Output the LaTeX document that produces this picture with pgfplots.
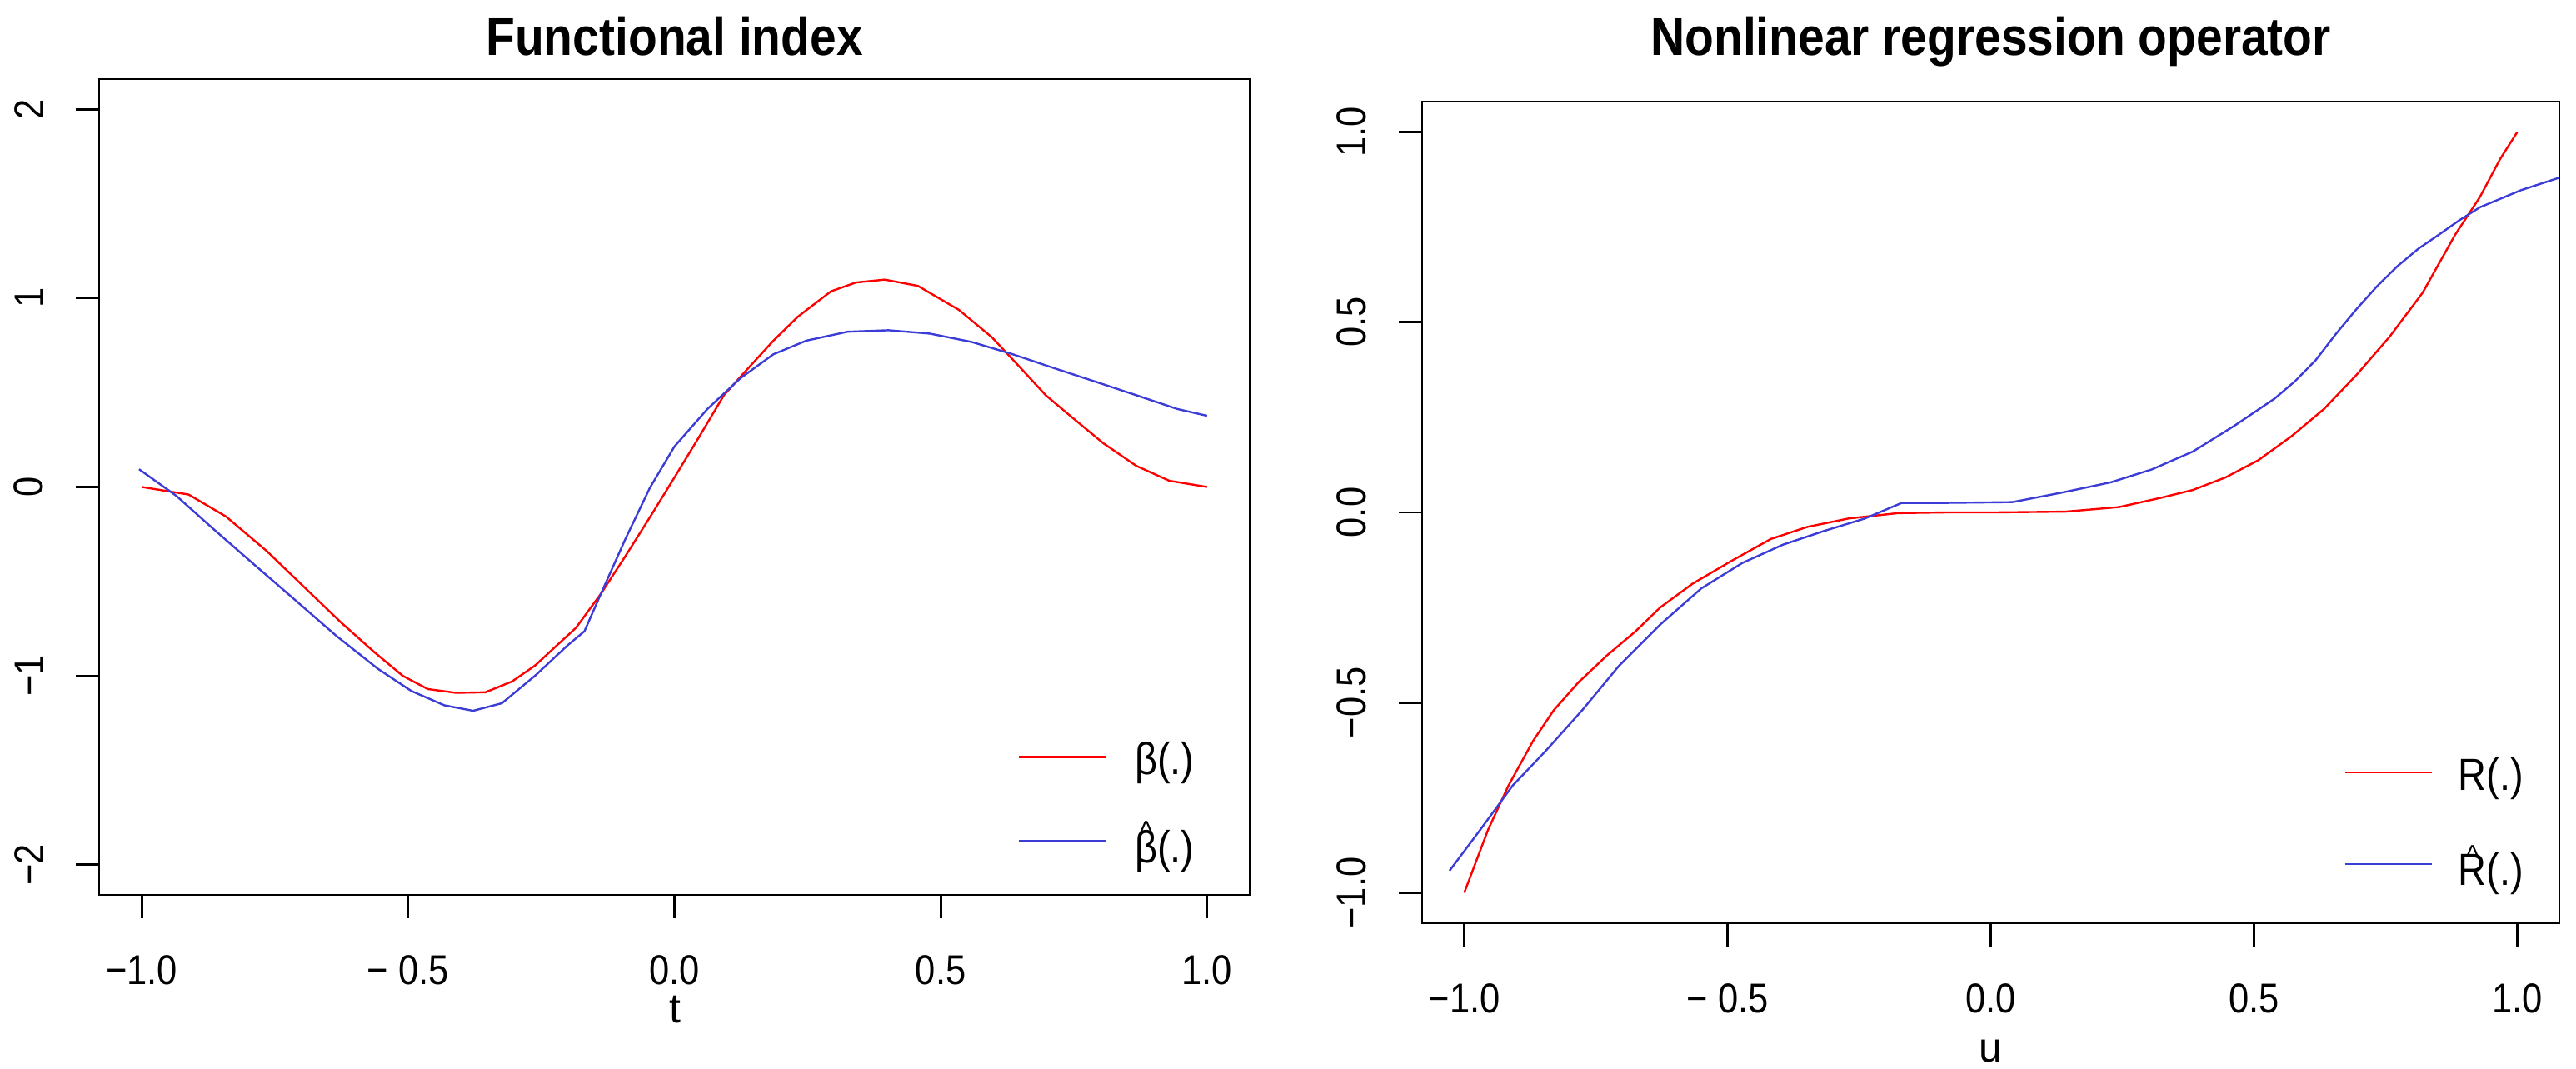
\documentclass[border=0pt]{standalone}
\usepackage{fontspec}
\setmainfont{Liberation Sans}
\usepackage{graphicx}
\usepackage{pgfplots}
\pgfplotsset{compat=1.18}

\definecolor{rred}{RGB}{255,0,0}
\definecolor{rblue}{RGB}{60,60,215}

% hat placed above a letter, like R's plotmath hat()
\newcommand{\rhat}[1]{\leavevmode\vbox{\offinterlineskip\halign{\hfil##\hfil\cr
  {\fontsize{9}{9}\selectfont\char"5E}\cr\noalign{\kern-3.5pt}#1\cr}}}
\newcommand{\narrow}[1]{\scalebox{0.87}[1]{#1}}

\pgfplotsset{
  rpanel/.style={
    scale only axis,
    axis line style={line width=0.7pt},
    every tick/.style={black, line width=0.7pt},
    major tick length=7pt, tick align=outside,
    xtick pos=bottom, ytick pos=left,
    xmin=-1.08, xmax=1.08,
    xtick={-1,-0.5,0,0.5,1},
    xticklabels={−1.0,− 0.5,0.0,0.5,1.0},
    ticklabel style={font=\fontsize{12.5}{14}\selectfont},
    xticklabel style={anchor=north, inner sep=0pt, yshift=-11pt, xscale=0.87},
    yticklabel style={xshift=-9.5pt, rotate=90, anchor=south, inner sep=0pt, xscale=0.87},
    legend style={draw=none, fill=none, inner sep=0pt,
      font=\fontsize{13.5}{15}\selectfont, legend cell align=left,
      nodes={inner sep=0pt}},
    legend image code/.code={\draw[#1] (0pt,1.25pt) -- (26pt,1.25pt);},
  },
}

\begin{document}
\begin{tikzpicture}
\useasboundingbox (0,0) rectangle (773pt,320.75pt);

% ---- left panel: functional index
\begin{axis}[rpanel,
  at={(29.75pt,52.25pt)}, anchor=south west,
  width=345.25pt, height=244.75pt,
  ymin=-2.16, ymax=2.16,
  ytick={-2,-1,0,1,2}, yticklabels={−2,−1,0,1,2},
  legend style={at={(0.798,0.188)}, anchor=north west,
    column sep=8.5pt, row sep=12.5pt},
]
\addplot[rred, line width=0.6pt] coordinates {
(-1,0) (-0.912,-0.04) (-0.842,-0.156) (-0.765,-0.34) (-0.695,-0.53)
(-0.626,-0.717) (-0.564,-0.873) (-0.51,-1.0) (-0.463,-1.07) (-0.41,-1.09)
(-0.355,-1.087) (-0.305,-1.03)
(-0.262,-0.946) (-0.185,-0.746) (-0.138,-0.565) (-0.092,-0.366) (-0.046,-0.16)
(0.0,0.05) (0.047,0.268) (0.093,0.486) (0.139,0.63) (0.186,0.775)
(0.232,0.902) (0.294,1.036) (0.341,1.083) (0.395,1.098) (0.457,1.065)
(0.534,0.938) (0.596,0.793) (0.65,0.63) (0.697,0.486) (0.743,0.377)
(0.805,0.232) (0.867,0.112) (0.929,0.033) (1.0,0.0)
};
\addplot[rblue, line width=0.6pt] coordinates {
(-1.005,0.094) (-0.935,-0.047) (-0.866,-0.221) (-0.788,-0.413) (-0.711,-0.601)
(-0.634,-0.79) (-0.556,-0.964) (-0.494,-1.08) (-0.432,-1.156) (-0.378,-1.185)
(-0.324,-1.145) (-0.262,-1.0) (-0.2,-0.837) (-0.169,-0.764) (-0.138,-0.565)
(-0.092,-0.275) (-0.046,-0.004) (0.0,0.214) (0.062,0.413) (0.124,0.576)
(0.186,0.703) (0.248,0.775) (0.325,0.822) (0.402,0.83) (0.48,0.812)
(0.558,0.768) (0.635,0.703) (0.712,0.63) (0.79,0.558) (0.867,0.486)
(0.944,0.413) (1.0,0.377)
};
\legend{\narrow{β(.)}, \narrow{\rhat{β}(.)}}
\end{axis}

% ---- right panel: nonlinear regression operator
\begin{axis}[rpanel,
  at={(426.75pt,43.75pt)}, anchor=south west,
  width=341.25pt, height=246.5pt,
  ymin=-1.08, ymax=1.08,
  ytick={-1,-0.5,0,0.5,1}, yticklabels={−1.0,−0.5,0.0,0.5,1.0},
  legend style={at={(0.810,0.202)}, anchor=north west,
    column sep=7.75pt, row sep=15pt},
]
\addplot[rred, line width=0.6pt] coordinates {
(-1,-1) (-0.955,-0.835) (-0.916,-0.718) (-0.869,-0.6) (-0.83,-0.52)
(-0.784,-0.448) (-0.729,-0.376) (-0.675,-0.313) (-0.628,-0.25) (-0.566,-0.187)
(-0.488,-0.124) (-0.418,-0.07) (-0.348,-0.038) (-0.27,-0.016) (-0.177,-0.002)
(-0.083,0.0) (0.01,0.0) (0.142,0.002) (0.244,0.014) (0.322,0.038)
(0.384,0.059) (0.446,0.092) (0.508,0.137) (0.571,0.2) (0.633,0.272)
(0.695,0.362) (0.757,0.461) (0.82,0.577) (0.882,0.73) (0.929,0.829)
(0.967,0.928) (1.0,1.0)
};
\addplot[rblue, line width=0.6pt] coordinates {
(-1.028,-0.942) (-0.97,-0.835) (-0.908,-0.718) (-0.846,-0.628) (-0.776,-0.52)
(-0.706,-0.403) (-0.628,-0.295) (-0.55,-0.2) (-0.472,-0.133) (-0.395,-0.085)
(-0.317,-0.049) (-0.239,-0.016) (-0.169,0.025) (-0.083,0.025) (0.041,0.027)
(0.135,0.052) (0.228,0.079) (0.306,0.113) (0.384,0.16) (0.462,0.227)
(0.539,0.299) (0.578,0.345) (0.617,0.40) (0.656,0.47) (0.695,0.535)
(0.734,0.595) (0.773,0.648) (0.812,0.693) (0.851,0.73)
(0.89,0.768) (0.929,0.802) (1.007,0.847) (1.08,0.88)
};
\legend{\narrow{R(.)}, \narrow{\rhat{R}(.)}}
\end{axis}

% titles and axis labels
\node[anchor=base, font=\bfseries\fontsize{16}{18}\selectfont, xscale=0.89] at (202.4pt,304pt) {Functional index};
\node[anchor=base, font=\bfseries\fontsize{16}{18}\selectfont, xscale=0.89] at (597.4pt,304pt) {Nonlinear regression operator};
\node[anchor=base, font=\fontsize{12.5}{14}\selectfont] at (202.5pt,13.75pt) {t};
\node[anchor=base, font=\fontsize{12.5}{14}\selectfont] at (597.4pt,2pt) {u};
\end{tikzpicture}
\end{document}
